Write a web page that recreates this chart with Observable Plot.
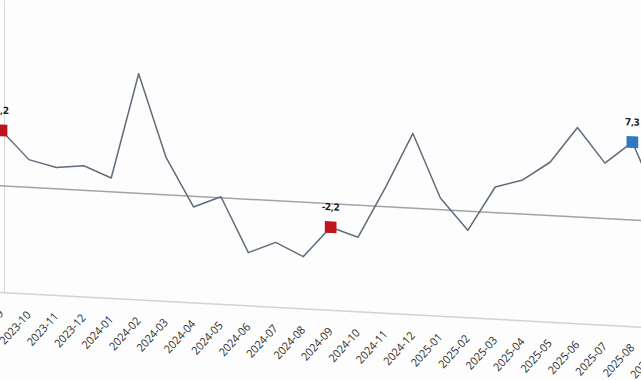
<!DOCTYPE html>
<html>
<head>
<meta charset="utf-8">
<script src="https://cdn.jsdelivr.net/npm/d3@7"></script>
<script src="https://cdn.jsdelivr.net/npm/@observablehq/plot@0.6"></script>
<style>
  html, body { margin: 0; padding: 0; background: #fdfdfd; overflow: hidden; width: 641px; height: 380px; }
  #chart svg { display: block; transform: skewY(3.1deg); transform-origin: 0 0; }
</style>
</head>
<body>
<div id="chart"></div>
<script>
const months = ["2023-09","2023-10","2023-11","2023-12",
  "2024-01","2024-02","2024-03","2024-04","2024-05","2024-06",
  "2024-07","2024-08","2024-09","2024-10","2024-11","2024-12",
  "2025-01","2025-02","2025-03","2025-04","2025-05","2025-06",
  "2025-07","2025-08","2025-09"];
const values = [5.2, 2.6, 2.0, 2.3,
  1.3, 11.2, 3.5, -1.0, 0.1, -5.0,
  -3.9, -5.1, -2.2, -3.0, 1.8, 7.0,
  1.1, -1.8, 2.4, 3.2, 5.0, 8.4,
  5.2, 7.3, 1.5];
const highlightMonths = ["2023-09", "2024-09", "2025-08"];
const highlightLabels = ["5,2", "-2,2", "7,3"];
const highlightKinds = ["low", "low", "last"];

const data = months.map((m, i) => ({month: m, value: values[i]}));
const highlights = highlightMonths.map((m, i) => ({
  month: m,
  value: values[months.indexOf(m)],
  label: highlightLabels[i],
  kind: highlightKinds[i]
}));

const chart = Plot.plot({
  width: 641,
  height: 380,
  marginTop: 0,
  marginLeft: 0,
  marginRight: 0,
  marginBottom: 88,
  style: {background: "transparent", fontFamily: "'Open Sans', sans-serif", fontSize: "11px", color: "#2b2b2b"},
  x: {type: "point", domain: months, range: [1, 659.3], padding: 0, round: false, label: null, tickRotate: -49, tickSize: 0, tickPadding: 19},
  y: {domain: [-10, 20], range: [292, -28.1], axis: null},
  color: {domain: ["low", "last"], range: ["#c0141c", "#2e78c2"]},
  marks: [
    Plot.ruleX(["2023-09"], {y1: -10, y2: 20, dx: 3, stroke: "#d6d6d6", strokeWidth: 1}),
    Plot.ruleY([-10], {stroke: "#d2d2d2", strokeWidth: 1.5}),
    Plot.ruleY([0], {stroke: "#a3a3a3", strokeWidth: 1.5}),
    Plot.line(data, {x: "month", y: "value", stroke: "#5f6c7a", strokeWidth: 1.5}),
    Plot.dot(highlights, {x: "month", y: "value", symbol: "square", fill: "kind", r: 6.6, stroke: "none"}),
    Plot.text(highlights, {x: "month", y: "value", text: "label", dy: -20, fontWeight: "bold", fontSize: 10, fill: "#111"})
  ]
});
document.getElementById("chart").appendChild(chart);
</script>
</body>
</html>
